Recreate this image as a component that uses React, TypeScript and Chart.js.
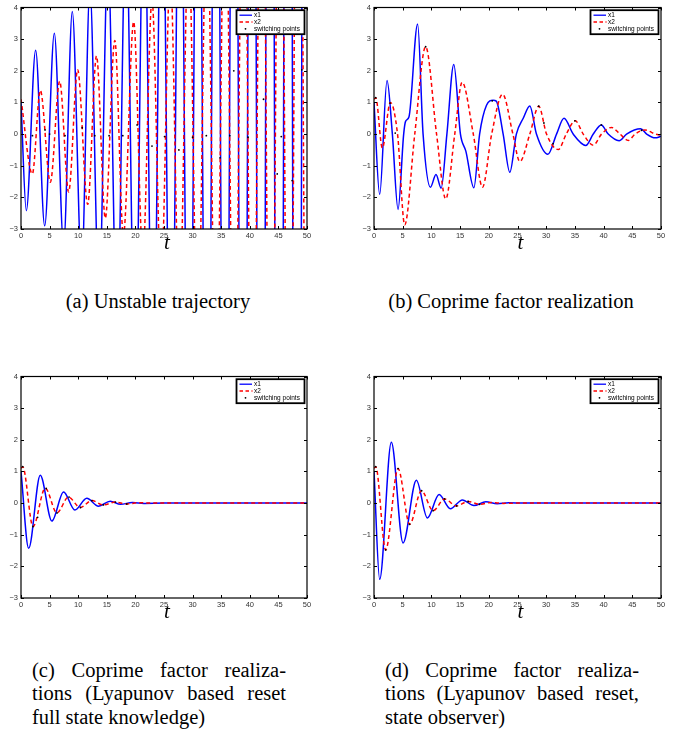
import React, { useEffect, useRef } from "react";
import { Chart, registerables } from "chart.js";
Chart.register(...registerables);

const X_TICKS = [0, 5, 10, 15, 20, 25, 30, 35, 40, 45, 50];
const Y_TICKS = [-3, -2, -1, 0, 1, 2, 3, 4];
const LEGEND_LABELS = ["x1", "x2", "switching points"];
const AXIS_LABEL = "t";

// (a) Unstable trajectory
const aX1T = [0, 0.93, 2.56, 4.14, 5.83, 7.45, 8.97, 10.6, 12.05, 13.65, 15.2, 16.8, 18.35, 19.95, 21.5, 23.1, 24.65, 26.25, 27.8, 29.4, 30.95, 32.55, 34.1, 35.7, 37.25, 38.85, 40.4, 42.0, 43.55, 45.15, 46.7, 48.3, 49.85, 50];
const aX1V = [1.0, -2.42, 2.65, -2.9, 3.19, -3.5, 3.87, -4.2, 4.6, -5.1, 5.6, -6.2, 6.8, -7.5, 8.2, -9.0, 9.9, -10.9, 12.0, -13.2, 14.5, -16.0, 17.6, -19.3, 21.2, -23.3, 25.6, -28.2, 31.0, -34.1, 37.5, -41.2, 45.0, 44.8];
const aX2T = [0, 1.98, 3.38, 5.13, 6.76, 8.33, 9.9, 11.66, 13.2, 14.74, 16.4, 17.9, 19.7, 21.3, 22.9, 24.5, 26.1, 27.7, 29.3, 30.9, 32.5, 34.1, 35.7, 37.3, 38.9, 40.5, 42.1, 43.7, 45.3, 46.9, 48.5, 50];
const aX2V = [1.1, -1.26, 1.38, -1.52, 1.67, -1.83, 2.03, -2.22, 2.47, -2.66, 2.96, -3.2, 3.55, -3.85, 4.25, -4.6, 5.1, -5.5, 6.1, -6.6, 7.3, -7.9, 8.8, -9.5, 10.5, -11.4, 12.6, -13.7, 15.1, -16.4, 18.1, -19.5];
const aSwT = [2.0, 4.2, 5.0, 7.7, 10.7, 12.9, 15.4, 17.8, 20.3, 22.9, 25.1, 27.6, 30.0, 32.4, 34.8, 37.2, 39.7, 42.4, 44.8, 47.4, 49.1, 36.5, 45.5];
const aSwV = [-0.05, 0.13, 0.0, -0.05, 0.2, -0.05, -0.05, -0.05, 0.29, -0.38, -0.08, -0.5, -0.1, -0.05, -0.75, 2.0, -0.1, 1.1, -1.26, -1.47, 2.03, -0.05, -0.08];

// (b) Coprime factor realization
const bX1T = [0, 0.99, 2.27, 3.2, 4.19, 5.17, 5.5, 6.1, 7.6, 8.55, 9.83, 10.8, 11.7, 12.7, 13.9, 15.06, 16.0, 17.4, 18.4, 19.6, 20.75, 21.3, 22.5, 23.66, 24.8, 26.0, 27.15, 28.3, 30.3, 31.8, 33.1, 34.7, 36.9, 38.2, 39.6, 40.8, 42.7, 44.0, 46.45, 47.5, 49.0, 50];
const bX1V = [1.0, -1.91, 1.69, 0, -2.38, 0, 0.4, 0.55, 3.48, 0, -1.68, -1.28, -1.71, 0, 2.2, 0, -0.54, -1.7, 0, 0.91, 1.07, 1.04, 0, -1.21, 0, 0.5, 0.89, 0, -0.64, 0, 0.5, 0, -0.36, 0, 0.29, 0, -0.21, 0, 0.17, 0, -0.12, -0.07];
const bX2T = [0, 0.3, 1.45, 2.85, 4.1, 5.35, 7.1, 9.0, 10.9, 12.5, 14.07, 15.35, 17.3, 18.9, 20.5, 22.4, 24.2, 25.4, 27.15, 28.7, 30.06, 32.1, 33.5, 35.06, 36.45, 38.2, 39.65, 41.4, 42.85, 44.3, 45.5, 47.2, 49.0, 50];
const bX2V = [1.1, 1.15, -0.44, 1.0, 0, -2.87, 0, 2.76, 0, -2.05, 0, 1.64, 0, -1.68, 0, 1.26, 0, -0.87, 0, 0.88, 0, -0.49, 0, 0.42, 0, -0.35, 0, 0.21, 0, -0.2, 0, 0.13, 0, -0.04];
const bSwT = [0.3, 2.8, 3.7, 9.0, 20.6, 28.7, 29.6, 31.2, 35.0, 39.6, 46.6];
const bSwV = [1.15, 0.98, 0.03, 2.76, 1.05, 0.88, 0.35, -0.3, 0.42, 0.29, 0.12];

// (c) Lyapunov based reset, full state knowledge
const cX1T = [0, 1.34, 3.37, 5.4, 7.44, 9.42, 11.5, 13.55, 15.6, 17.4, 19.5, 21.5, 25, 50];
const cX1V = [1.0, -1.43, 0.88, -0.57, 0.35, -0.22, 0.15, -0.1, 0.06, -0.04, 0.02, -0.01, 0, 0];
const cX2T = [0, 0.3, 2.1, 4.24, 6.28, 8.3, 10.35, 12.4, 14.4, 16.45, 18.5, 20.5, 23, 50];
const cX2V = [1.1, 1.15, -0.74, 0.47, -0.31, 0.19, -0.14, 0.08, -0.06, 0.03, -0.03, 0.01, 0, 0];
const cSwT = [0.3, 2.1, 2.9, 4.4, 6.3, 8.4, 10.4, 12.4, 14.4, 16.5, 18.5];
const cSwV = [1.15, -0.74, -0.45, 0.46, -0.31, 0.19, -0.14, 0.08, -0.06, 0.03, -0.03];

// (d) Lyapunov based reset, state observer
const dX1T = [0, 0.99, 3.02, 5.06, 7.38, 9.3, 11.34, 13.3, 15.4, 17.4, 19.5, 21.45, 23.5, 26, 50];
const dX1V = [1.0, -2.41, 1.92, -1.26, 0.72, -0.47, 0.27, -0.18, 0.1, -0.08, 0.04, -0.02, 0.01, 0, 0];
const dX2T = [0, 0.3, 2.03, 4.19, 6.22, 8.26, 10.3, 12.3, 14.36, 16.4, 18.4, 20.5, 22.5, 25, 50];
const dX2V = [1.1, 1.15, -1.48, 1.09, -0.67, 0.39, -0.24, 0.13, -0.09, 0.05, -0.04, 0.02, -0.01, 0, 0];
const dSwT = [0.3, 2.03, 4.2, 6.2, 8.3, 10.3, 12.3, 14.4, 16.4, 18.4];
const dSwV = [1.15, -1.48, 1.09, -0.67, 0.39, -0.24, 0.13, -0.09, 0.05, -0.04];

const CAPTION_A = "(a) Unstable trajectory";
const CAPTION_B = "(b) Coprime factor realization";
const CAPTION_C = ["(c) Coprime factor realiza-", "tions (Lyapunov based reset", "full state knowledge)"];
const CAPTION_D = ["(d) Coprime factor realiza-", "tions (Lyapunov based reset,", "state observer)"];

const zip = (t: number[], v: number[]) => t.map((x, i) => ({ x, y: v[i] }));

const framePlugin = {
  id: "matlabFrame",
  afterDatasetsDraw(chart: any) {
    const { ctx, chartArea: ca, scales } = chart;
    const xs = scales.x;
    const ys = scales.y;
    ctx.save();
    ctx.strokeStyle = "#000";
    ctx.lineWidth = 1;
    ctx.beginPath();
    X_TICKS.forEach((v) => {
      const px = Math.round(xs.getPixelForValue(v)) + 0.5;
      ctx.moveTo(px, ca.bottom);
      ctx.lineTo(px, ca.bottom - 3);
      ctx.moveTo(px, ca.top);
      ctx.lineTo(px, ca.top + 3);
    });
    Y_TICKS.forEach((v) => {
      const py = Math.round(ys.getPixelForValue(v)) + 0.5;
      ctx.moveTo(ca.left, py);
      ctx.lineTo(ca.left + 3, py);
      ctx.moveTo(ca.right, py);
      ctx.lineTo(ca.right - 3, py);
    });
    ctx.stroke();
    ctx.lineWidth = 1.2;
    ctx.strokeRect(ca.left, ca.top, ca.right - ca.left, ca.bottom - ca.top);

    // legend box
    const bw = 68;
    const bh = 24;
    const bx = ca.right - 2.5 - bw;
    const by = ca.top + 2.7;
    ctx.fillStyle = "#fff";
    ctx.fillRect(bx, by, bw, bh);
    ctx.lineWidth = 1.8;
    ctx.strokeStyle = "#000";
    ctx.strokeRect(bx, by, bw, bh);
    const rows = [by + 5, by + 11.8, by + 18.6];
    ctx.lineWidth = 1.3;
    ctx.strokeStyle = "#0000ff";
    ctx.beginPath();
    ctx.moveTo(bx + 3, rows[0]);
    ctx.lineTo(bx + 15.5, rows[0]);
    ctx.stroke();
    ctx.strokeStyle = "#ff0000";
    ctx.setLineDash([3.5, 2.5]);
    ctx.beginPath();
    ctx.moveTo(bx + 3, rows[1]);
    ctx.lineTo(bx + 16, rows[1]);
    ctx.stroke();
    ctx.setLineDash([]);
    ctx.fillStyle = "#000";
    ctx.beginPath();
    ctx.arc(bx + 9, rows[2], 0.9, 0, Math.PI * 2);
    ctx.fill();
    ctx.font = '6.5px "Liberation Sans", Arial, sans-serif';
    ctx.textBaseline = "middle";
    ctx.textAlign = "left";
    LEGEND_LABELS.forEach((l, i) => ctx.fillText(l, bx + 17.5, rows[i]));

    // axis label
    ctx.font = 'italic 21px "Liberation Serif", "Times New Roman", serif';
    ctx.textAlign = "center";
    ctx.textBaseline = "alphabetic";
    ctx.fillText(AXIS_LABEL, (ca.left + ca.right) / 2 + 3, ca.bottom + 20);
    ctx.restore();
  },
};

type Pt = { x: number; y: number };

function Panel(props: { left: number; top: number; yw: number; rp: number; s1: Pt[]; s2: Pt[]; sw: Pt[] }) {
  const ref = useRef<HTMLCanvasElement>(null);
  useEffect(() => {
    const tickFont = { family: '"Liberation Sans", Arial, sans-serif', size: 7.5 };
    const chart = new Chart(ref.current as HTMLCanvasElement, {
      type: "line",
      data: {
        datasets: [
          { label: LEGEND_LABELS[0], data: props.s1, borderColor: "#0000ff", borderWidth: 1.5, pointRadius: 0, cubicInterpolationMode: "monotone", order: 3 } as any,
          { label: LEGEND_LABELS[1], data: props.s2, borderColor: "#ff0000", borderWidth: 1.5, borderDash: [4, 3], pointRadius: 0, cubicInterpolationMode: "monotone", order: 2 } as any,
          { label: LEGEND_LABELS[2], data: props.sw, showLine: false, pointRadius: 0.9, pointBackgroundColor: "#000", pointBorderWidth: 0, borderColor: "#000", order: 1 } as any,
        ],
      },
      options: {
        responsive: false,
        animation: false,
        events: [],
        layout: { padding: { top: 4, right: props.rp, left: 0, bottom: 0 } },
        plugins: { legend: { display: false }, tooltip: { enabled: false } },
        scales: {
          x: {
            type: "linear",
            min: 0,
            max: 50,
            afterFit: (s: any) => { s.height = 31; },
            afterBuildTicks: (s: any) => { s.ticks = X_TICKS.map((v) => ({ value: v })); },
            grid: { display: false, drawTicks: false },
            border: { display: false },
            ticks: { padding: 2, font: tickFont, color: "#333", maxRotation: 0, autoSkip: false },
          },
          y: {
            type: "linear",
            min: -3,
            max: 4,
            afterFit: (s: any) => { s.width = props.yw; },
            afterBuildTicks: (s: any) => { s.ticks = Y_TICKS.map((v) => ({ value: v })); },
            grid: { display: false, drawTicks: false },
            border: { display: false },
            ticks: {
              padding: 3,
              font: tickFont,
              color: "#333",
              autoSkip: false,
              callback: (v: any) => (Number(v) < 0 ? "\u2212" + Math.abs(Number(v)) : String(v)),
            },
          },
        },
      } as any,
      plugins: [framePlugin],
    });
    return () => chart.destroy();
  }, []);
  return <canvas ref={ref} width={342} height={260} style={{ position: "absolute", left: props.left, top: props.top }} />;
}

const serif = '"Liberation Serif", "Times New Roman", serif';

function Caption3(props: { left: number; lines: string[] }) {
  return (
    <div style={{ position: "absolute", left: props.left, top: 658.5, width: 254, fontFamily: serif, fontSize: 20.5, lineHeight: "23.5px", color: "#000" }}>
      <div style={{ textAlign: "justify", textAlignLast: "justify" } as any}>{props.lines[0]}</div>
      <div style={{ textAlign: "justify", textAlignLast: "justify" } as any}>{props.lines[1]}</div>
      <div style={{ textAlign: "left" }}>{props.lines[2]}</div>
    </div>
  );
}

export default function App() {
  return (
    <div style={{ position: "absolute", left: 0, top: 0, width: 684, height: 735, background: "#fff", overflow: "hidden" }}>
      <Panel left={0} top={0} yw={21} rp={35} s1={zip(aX1T, aX1V)} s2={zip(aX2T, aX2V)} sw={zip(aSwT, aSwV)} />
      <Panel left={342} top={0} yw={32} rp={23} s1={zip(bX1T, bX1V)} s2={zip(bX2T, bX2V)} sw={zip(bSwT, bSwV)} />
      <Panel left={0} top={369} yw={21} rp={35} s1={zip(cX1T, cX1V)} s2={zip(cX2T, cX2V)} sw={zip(cSwT, cSwV)} />
      <Panel left={342} top={369} yw={32} rp={23} s1={zip(dX1T, dX1V)} s2={zip(dX2T, dX2V)} sw={zip(dSwT, dSwV)} />
      <div style={{ position: "absolute", left: 38, top: 289.5, width: 240, textAlign: "center", fontFamily: serif, fontSize: 20.5, lineHeight: "23px", color: "#000" }}>{CAPTION_A}</div>
      <div style={{ position: "absolute", left: 371, top: 289.5, width: 280, textAlign: "center", fontFamily: serif, fontSize: 20.5, lineHeight: "23px", color: "#000" }}>{CAPTION_B}</div>
      <Caption3 left={32} lines={CAPTION_C} />
      <Caption3 left={385} lines={CAPTION_D} />
    </div>
  );
}
